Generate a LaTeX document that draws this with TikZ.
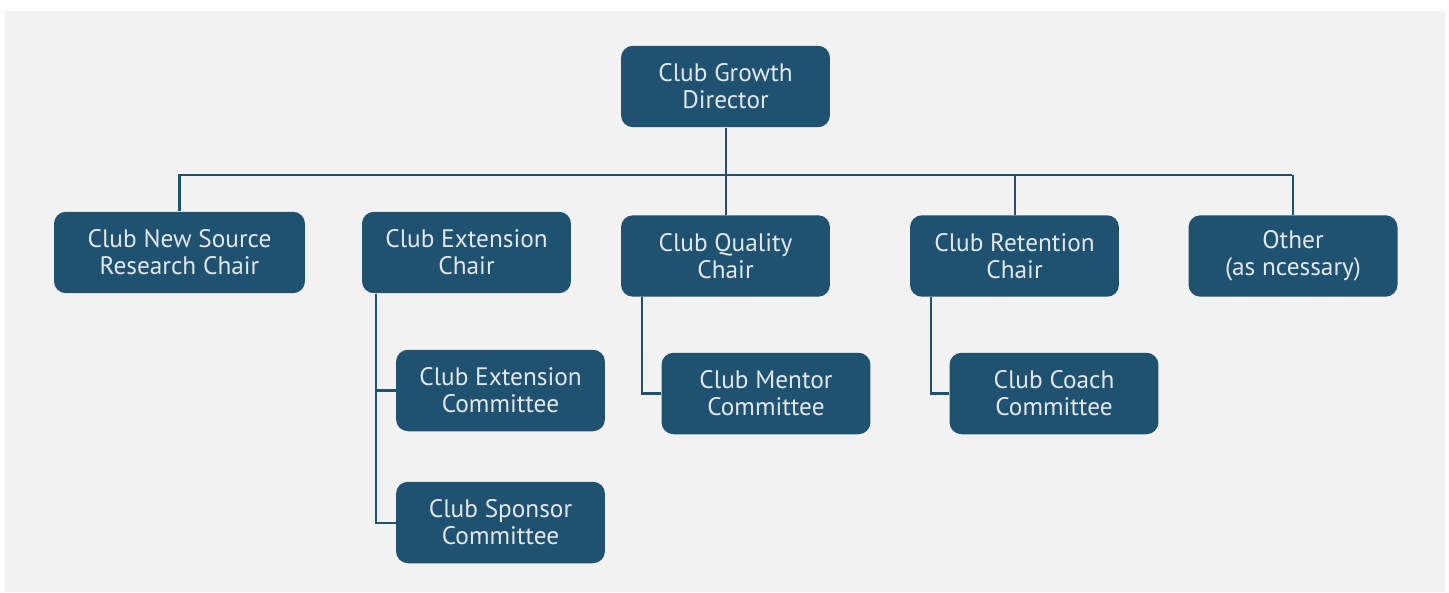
\documentclass[tikz,border=0pt]{standalone}
\usepackage{fontspec}
\setmainfont{PT Sans}
\usepackage{tikz}
\usetikzlibrary{positioning, calc}

\definecolor{boxblue}{RGB}{31,82,112}
\definecolor{boxtext}{RGB}{226,231,235}
\definecolor{panel}{RGB}{242,242,242}

\begin{document}
\begin{tikzpicture}[ x=0.02cm, y=-0.02cm,
      % one unit is one pixel of the layout
      box/.style={rectangle, rounded corners=0.24cm, fill=boxblue,
      text=boxtext, align=center, inner sep=0pt, minimum width=4.18cm,
      minimum height=1.63cm, font=\fontsize{14.4pt}{15.4pt}\selectfont},
      widebox/.style={box, minimum width=5.02cm},
      link/.style={draw=boxblue, line width=1.15pt} ]
    % Background panel
    \useasboundingbox (0,0) rectangle (1449,592);
    \fill[panel] (5,11) rectangle (1445,592);

    % Top level
    \node[box] (dir) at (725.5,86.5) {Club Growth\\Director};

    % Chairs
    \node[widebox] (src) at (179.5,252.5) {Club New Source\\Research Chair};
    \node[box] (ext) at (466.5,252.5) {Club Extension\\Chair};
    \node[box] (qual) at (725.5,256) {Club Quality\\Chair};
    \node[box] (ret) at (1014.5,256) {Club Retention\\Chair};
    \node[box] (oth) at (1293,256) {Other\\(as ncessary)};

    % Committees
    \node[box] (extc) at (500.5,390.5) {Club Extension\\Committee};
    \node[box] (spon) at (500.5,522.5) {Club Sponsor\\Committee};
    \node[box] (ment) at (766,393.5) {Club Mentor\\Committee};
    \node[box] (coach) at (1054,393.5) {Club Coach\\Committee};

    % Bus line under the director
    \coordinate (busl) at (178,175); \coordinate (busr) at (1292,175);
    \draw[link] (busl) -- (busr);
    \draw[link] (dir.south) -- (dir.south |- busl);
    \foreach \n in {src,qual,ret,oth}
      \draw[link] (\n.north) -- (\n.north |- busl);
    \draw[link] ($(ext.north)+(4.5,0)$) -- ($(ext.north)+(4.5,0)$ |- busl);

    % Branches down to the committees
    \draw[link] ($(ext.south west)+(14,0)$) |- (spon.west);
    \draw[link] ($(ext.south west)+(14,0)$) |- (extc.west);
    \draw[link] ($(qual.south west)+(21,0)$) |- (ment.west);
    \draw[link] ($(ret.south west)+(21,0)$) |- (coach.west);

    \end{tikzpicture}
\end{document}
